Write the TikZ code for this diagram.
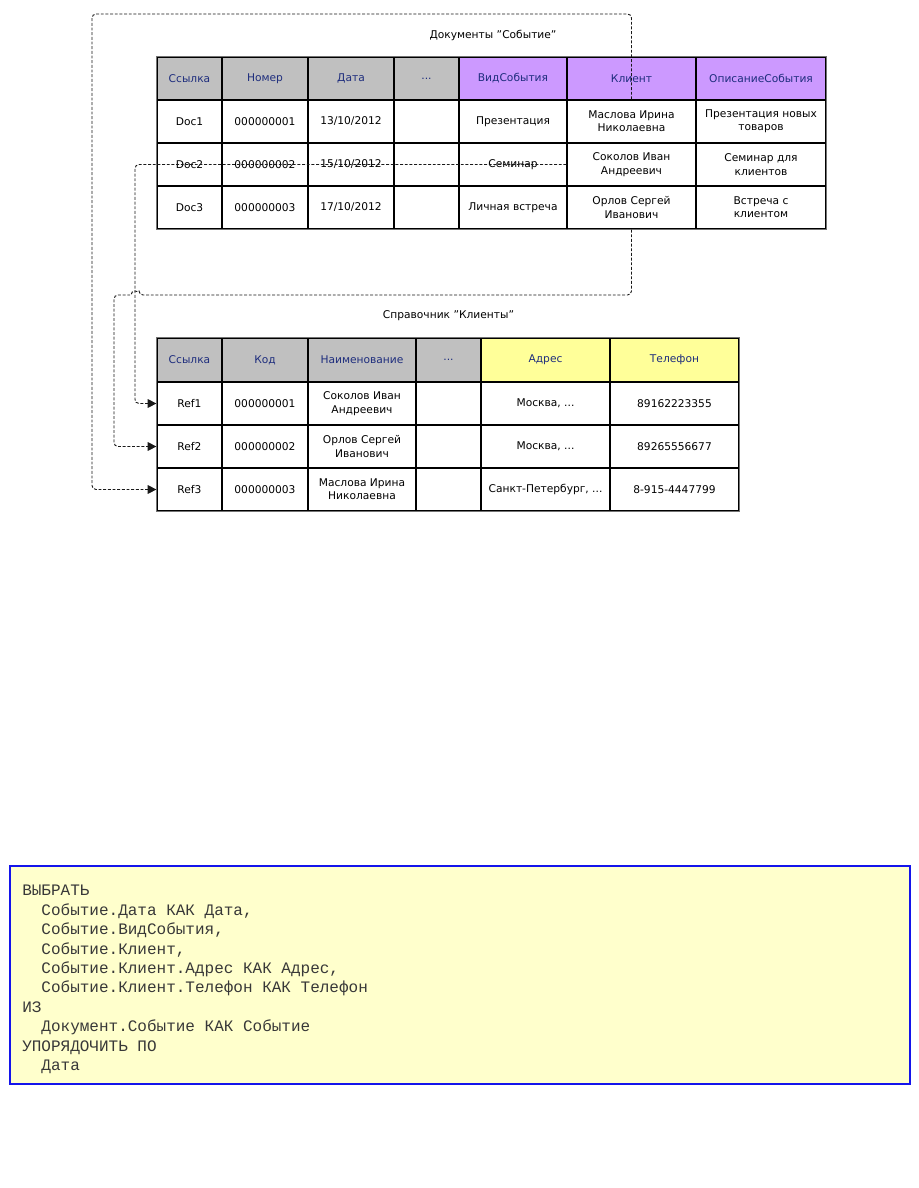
\documentclass[tikz,border=0pt]{standalone}
\usepackage{fontspec}
\usepackage{xcolor}
\usetikzlibrary{arrows.meta}
\setmainfont{DejaVu Sans}
\newfontfamily\codefont{Liberation Mono}
\definecolor{hdrGray}{RGB}{192,192,192}
\definecolor{hdrViolet}{RGB}{204,153,255}
\definecolor{hdrYellow}{RGB}{255,255,153}
\definecolor{hdrText}{RGB}{30,45,125}
\definecolor{queryFill}{RGB}{255,255,204}
\definecolor{queryLine}{RGB}{20,20,235}
\newcommand{\qind}{\hspace*{1.2em}}
\newcommand{\dq}{\symbol{34}}

\begin{document}
\begin{tikzpicture}[x=0.75pt,y=0.75pt,yscale=-1,xscale=1,
	cell/.style={draw=black, line width=0.9pt, inner sep=1pt, align=center, font=\fontsize{8}{10}\selectfont},
	cellsize/.style 2 args={minimum width={#1*0.75pt}, minimum height={#2*0.75pt}},
	head/.style={cell, text=hdrText},
	frame/.style={draw=black!55, line width=1pt},
	title/.style={inner sep=0.75pt, font=\fontsize{8}{10}\selectfont},
	link/.style={draw=black!90, line width=0.7pt, dash pattern=on 2.2pt off 1.3pt, rounded corners=3pt},
	tip/.style={-{Triangle[length=6.5pt,width=6.5pt]}}
	]
	\path[fill=white] (0,0) rectangle (918,1188);
	\useasboundingbox (0,0) rectangle (918,1188);
	
	% Text Node
	\node (titleDocs) [title] at (493,35) {Документы \dq Событие\dq};
	
	%Table Documents: header
	\node (hRef) [head, fill=hdrGray, cellsize={65}{43}] at (189.5,78.5) {Ссылка};
	\node (hNum) [head, fill=hdrGray, cellsize={86}{43}] at (265,78.5) {Номер};
	\node (hDate) [head, fill=hdrGray, cellsize={86}{43}] at (351,78.5) {Дата};
	\node (hDots) [head, fill=hdrGray, cellsize={65}{43}] at (426.5,78.5) {...};
	\node (hKind) [head, fill=hdrViolet, cellsize={108}{43}] at (513,78.5) {ВидСобытия};
	\node (hClient) [head, fill=hdrViolet, cellsize={129}{43}] at (631.5,78.5) {Клиент};
	\node (hDescr) [head, fill=hdrViolet, cellsize={130}{43}] at (761,78.5) {ОписаниеСобытия};
	%Table Documents: rows
	\node (doc1) [cell, cellsize={65}{43}] at (189.5,121.5) {Doc1};
	\node (num1) [cell, cellsize={86}{43}] at (265,121.5) {000000001};
	\node (date1) [cell, cellsize={86}{43}] at (351,121.5) {13/10/2012};
	\node (dots1) [cell, cellsize={65}{43}] at (426.5,121.5) {};
	\node (kind1) [cell, cellsize={108}{43}] at (513,121.5) {Презентация};
	\node (client1) [cell, cellsize={129}{43}] at (631.5,121.5) {Маслова Ирина\\Николаевна};
	\node (descr1) [cell, cellsize={130}{43}] at (761,121.5) {Презентация новых\\товаров};
	
	\node (doc2) [cell, cellsize={65}{43}] at (189.5,164.5) {Doc2};
	\node (num2) [cell, cellsize={86}{43}] at (265,164.5) {000000002};
	\node (date2) [cell, cellsize={86}{43}] at (351,164.5) {15/10/2012};
	\node (dots2) [cell, cellsize={65}{43}] at (426.5,164.5) {};
	\node (kind2) [cell, cellsize={108}{43}] at (513,164.5) {Семинар};
	\node (client2) [cell, cellsize={129}{43}] at (631.5,164.5) {Соколов Иван\\Андреевич};
	\node (descr2) [cell, cellsize={130}{43}] at (761,164.5) {Семинар для\\клиентов};
	
	\node (doc3) [cell, cellsize={65}{43}] at (189.5,207.5) {Doc3};
	\node (num3) [cell, cellsize={86}{43}] at (265,207.5) {000000003};
	\node (date3) [cell, cellsize={86}{43}] at (351,207.5) {17/10/2012};
	\node (dots3) [cell, cellsize={65}{43}] at (426.5,207.5) {};
	\node (kind3) [cell, cellsize={108}{43}] at (513,207.5) {Личная встреча};
	\node (client3) [cell, cellsize={129}{43}] at (631.5,207.5) {Орлов Сергей\\Иванович};
	\node (descr3) [cell, cellsize={130}{43}] at (761,207.5) {Встреча с\\клиентом};
	\draw [frame] (hRef.north west) rectangle (descr3.south east);
	
	% Text Node
	\node (titleRefs) [title] at (448.5,316) {Справочник \dq Клиенты\dq};
	
	%Table Clients: header
	\node (cRef) [head, fill=hdrGray, cellsize={65}{44}] at (189.5,360) {Ссылка};
	\node (cCode) [head, fill=hdrGray, cellsize={86}{44}] at (265,360) {Код};
	\node (cName) [head, fill=hdrGray, cellsize={108}{44}] at (362,360) {Наименование};
	\node (cDots) [head, fill=hdrGray, cellsize={65}{44}] at (448.5,360) {...};
	\node (cAddr) [head, fill=hdrYellow, cellsize={129}{44}] at (545.5,360) {Адрес};
	\node (cPhone) [head, fill=hdrYellow, cellsize={129}{44}] at (674.5,360) {Телефон};
	%Table Clients: rows
	\node (ref1) [cell, cellsize={65}{43}] at (189.5,403.5) {Ref1};
	\node (code1) [cell, cellsize={86}{43}] at (265,403.5) {000000001};
	\node (name1) [cell, cellsize={108}{43}] at (362,403.5) {Соколов Иван\\Андреевич};
	\node (cdots1) [cell, cellsize={65}{43}] at (448.5,403.5) {};
	\node (addr1) [cell, cellsize={129}{43}] at (545.5,403.5) {Москва, ...};
	\node (phone1) [cell, cellsize={129}{43}] at (674.5,403.5) {89162223355};
	
	\node (ref2) [cell, cellsize={65}{43}] at (189.5,446.5) {Ref2};
	\node (code2) [cell, cellsize={86}{43}] at (265,446.5) {000000002};
	\node (name2) [cell, cellsize={108}{43}] at (362,446.5) {Орлов Сергей\\Иванович};
	\node (cdots2) [cell, cellsize={65}{43}] at (448.5,446.5) {};
	\node (addr2) [cell, cellsize={129}{43}] at (545.5,446.5) {Москва, ...};
	\node (phone2) [cell, cellsize={129}{43}] at (674.5,446.5) {89265556677};
	
	\node (ref3) [cell, cellsize={65}{43}] at (189.5,489.5) {Ref3};
	\node (code3) [cell, cellsize={86}{43}] at (265,489.5) {000000003};
	\node (name3) [cell, cellsize={108}{43}] at (362,489.5) {Маслова Ирина\\Николаевна};
	\node (cdots3) [cell, cellsize={65}{43}] at (448.5,489.5) {};
	\node (addr3) [cell, cellsize={129}{43}] at (545.5,489.5) {Санкт-Петербург, ...};
	\node (phone3) [cell, cellsize={129}{43}] at (674.5,489.5) {8-915-4447799};
	\draw [frame] (cRef.north west) rectangle (phone3.south east);
	
	%Dashed links client -> reference
	\draw [link, tip] (client1.north) -- (client1.north |- 0,14) -- (92,14) |- (ref3.west);
	\draw [link, tip] (client2.west) -- (135,164.5) |- (ref1.west);
	\draw [link, tip] (client3.south) |- (139,295) [sharp corners] arc[start angle=0, end angle=-180, radius=4] [rounded corners=3pt] -- (114,295) |- (ref2.west);
	
	%Query box
	\node (query) [draw=queryLine, line width=1.2pt, fill=queryFill, minimum width=675pt, minimum height=163.5pt, inner sep=0] at (460,975) {};
	% Text Node
	\node (queryText) [anchor=north west, inner sep=0, align=left, text=black!78, font=\codefont\fontsize{12}{14.55}\selectfont] at (22,885) {ВЫБРАТЬ\\
		\qind Событие.Дата КАК Дата,\\
		\qind Событие.ВидСобытия,\\
		\qind Событие.Клиент,\\
		\qind Событие.Клиент.Адрес КАК Адрес,\\
		\qind Событие.Клиент.Телефон КАК Телефон\\
		ИЗ\\
		\qind Документ.Событие КАК Событие\\
		УПОРЯДОЧИТЬ ПО\\
		\qind Дата};
	
\end{tikzpicture}
\end{document}
